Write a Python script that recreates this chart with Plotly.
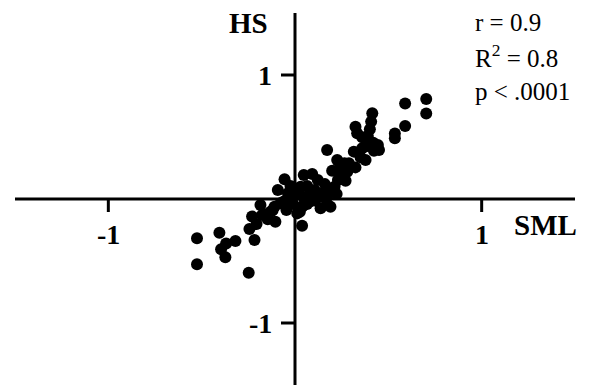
import plotly.graph_objects as go

# SML vs HS scores
sml = [-0.525, -0.525, -0.405, -0.319, -0.396, -0.369, -0.373, -0.248, -0.217, -0.244,
       -0.230, -0.206, -0.185, -0.176, -0.146, -0.131, -0.105, -0.110, -0.078, -0.092,
       -0.056, -0.038, -0.024, -0.046, -0.010, 0.003, 0.012, 0.038, 0.026, 0.047,
       0.092, 0.065, 0.105, 0.122, 0.137, 0.172, 0.190, 0.212, 0.230, 0.199,
       0.240, 0.265, 0.271, 0.223, 0.172, 0.105, 0.065, 0.137, 0.030, 0.074,
       0.172, 0.226, 0.289, 0.315, 0.324, 0.351, 0.360, 0.387, 0.419, 0.444,
       0.450, 0.423, 0.378, 0.324, 0.333, 0.360, 0.390, 0.401, 0.408, 0.414,
       0.590, 0.703, 0.703, 0.590, 0.535, 0.535,
       0.050, 0.080, 0.110, 0.150, -0.020, 0.020, 0.180, 0.250, 0.280, -0.060,
       -0.120, 0.040, 0.160, -0.150, 0.300]
hs = [-0.317, -0.527, -0.272, -0.339, -0.406, -0.358, -0.470, -0.594, -0.331, -0.242,
      -0.142, -0.202, -0.048, -0.129, -0.164, -0.102, -0.183, -0.062, -0.035, 0.073,
      0.159, 0.046, 0.105, -0.089, -0.040, 0.032, -0.116, -0.215, -0.102, 0.194,
      0.202, 0.105, 0.073, 0.153, 0.019, -0.040, -0.062, 0.099, 0.153, 0.228,
      0.255, 0.288, 0.148, 0.040, 0.024, -0.013, -0.040, -0.075, 0.099, 0.032,
      0.395, 0.315, 0.288, 0.382, 0.255, 0.336, 0.409, 0.427, 0.454, 0.435,
      0.395, 0.390, 0.315, 0.583, 0.530, 0.497, 0.508, 0.562, 0.624, 0.691,
      0.770, 0.807, 0.690, 0.588, 0.529, 0.489,
      0.000, -0.020, 0.030, 0.050, 0.000, 0.060, 0.080, 0.200, 0.220, -0.020,
      -0.090, -0.060, 0.120, -0.120, 0.260]

tick_vals = [-1, 1]
tick_text = ["-1", "1"]
x_label = "SML"
y_label = "HS"
stats_lines = ["r = 0.9", "R<sup>2</sup> = 0.8", "p < .0001"]

SERIF = "Liberation Serif, Times New Roman, serif"
LIM = 1.5

fig = go.Figure()
fig.add_trace(go.Scatter(
    x=sml, y=hs, mode="markers",
    marker=dict(color="black", size=12, line=dict(width=0)),
    hoverinfo="skip", showlegend=False,
))

shapes = [
    # axes crossing at the origin
    dict(type="line", xref="x", yref="y", x0=-LIM, x1=LIM, y0=0, y1=0,
         line=dict(color="black", width=3)),
    dict(type="line", xref="x", yref="y", x0=0, x1=0, y0=-LIM, y1=LIM,
         line=dict(color="black", width=3)),
]
annotations = []
for v, t in zip(tick_vals, tick_text):
    # x-axis tick below the line
    shapes.append(dict(type="line", xref="x", yref="y", ysizemode="pixel", yanchor=0,
                       x0=v, x1=v, y0=0, y1=-13, line=dict(color="black", width=3)))
    # y-axis tick to the left of the line
    shapes.append(dict(type="line", xref="x", yref="y", xsizemode="pixel", xanchor=0,
                       x0=0, x1=-14, y0=v, y1=v, line=dict(color="black", width=3)))
    annotations.append(dict(x=v, y=0, xref="x", yref="y", text="<b>" + t + "</b>",
                            showarrow=False, xanchor="center", yanchor="middle", yshift=-35,
                            font=dict(family=SERIF, size=28, color="black")))
    annotations.append(dict(x=0, y=v, xref="x", yref="y", text="<b>" + t + "</b>",
                            showarrow=False, xanchor="right", yanchor="middle", xshift=-21,
                            font=dict(family=SERIF, size=28, color="black")))

annotations.append(dict(x=1.34, y=-0.21, xref="x", yref="y", text="<b>" + x_label + "</b>",
                        showarrow=False, xanchor="center", yanchor="middle",
                        font=dict(family=SERIF, size=29, color="black")))
annotations.append(dict(x=-0.25, y=1.42, xref="x", yref="y", text="<b>" + y_label + "</b>",
                        showarrow=False, xanchor="center", yanchor="middle",
                        font=dict(family=SERIF, size=29, color="black")))
for yv, line in zip([1.42, 1.15, 0.87], stats_lines):
    annotations.append(dict(x=0.952, y=yv, xref="x", yref="y", text=line, showarrow=False,
                            xanchor="left", yanchor="middle",
                            font=dict(family=SERIF, size=25, color="black")))

fig.update_layout(
    width=589, height=385,
    margin=dict(l=15, r=14, t=13, b=0),
    paper_bgcolor="white", plot_bgcolor="white",
    xaxis=dict(range=[-LIM, LIM], visible=False, fixedrange=True),
    yaxis=dict(range=[-LIM, LIM], visible=False, fixedrange=True),
    shapes=shapes, annotations=annotations,
)

fig.write_html("out.html")
